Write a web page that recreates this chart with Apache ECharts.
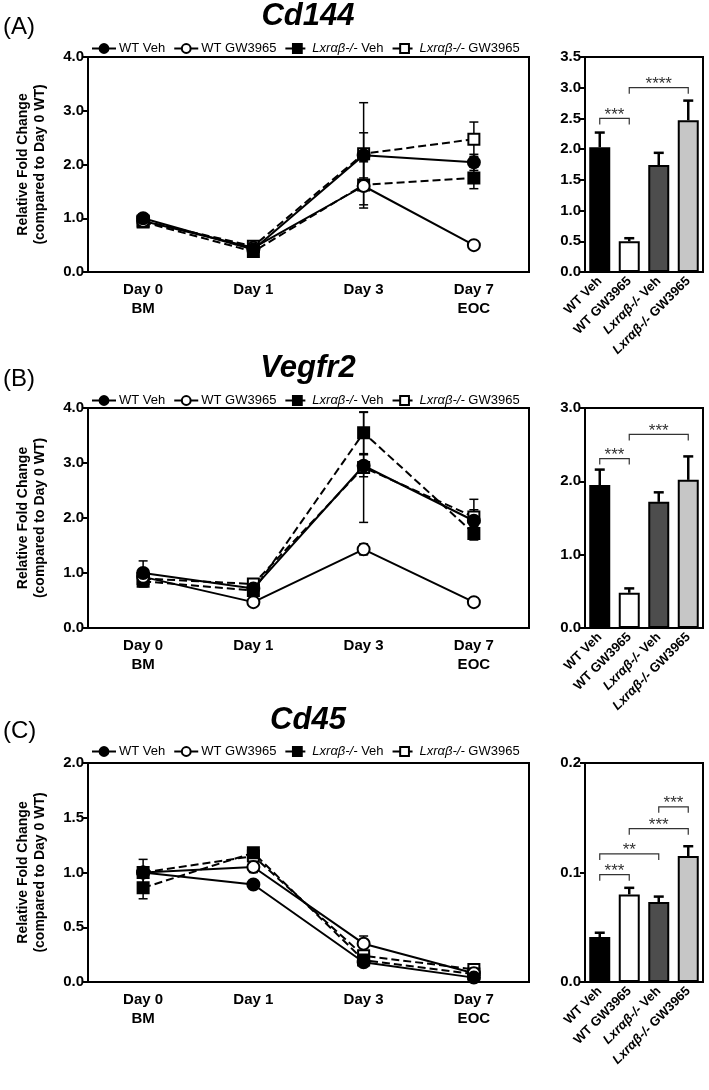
<!DOCTYPE html>
<html><head><meta charset="utf-8">
<script src="https://cdn.jsdelivr.net/npm/echarts@6/dist/echarts.min.js"></script>
<style>html,body{margin:0;padding:0;background:#fff}#c{width:709px;height:1090px}</style>
</head><body><div id="c"></div>
<script>
// ---------- data ----------
const days = ['Day 0\nBM', 'Day 1', 'Day 3', 'Day 7\nEOC'];
const groups = ['WT Veh', 'WT GW3965', 'Lxrαβ-/- Veh', 'Lxrαβ-/- GW3965'];
const panelTitles = ['Cd144', 'Vegfr2', 'Cd45'];
const panelLetters = ['(A)', '(B)', '(C)'];

// Cd144 time course (mean, error)
const cd144_wtVeh = [1.00, 0.42, 2.17, 2.04];
const cd144_wtVeh_err = [0.08, 0.04, 0.42, 0.15];
const cd144_wtGW = [0.95, 0.45, 1.60, 0.50];
const cd144_wtGW_err = [0.05, 0.04, 0.08, 0.04];
const cd144_lxrVeh = [0.93, 0.38, 1.62, 1.75];
const cd144_lxrVeh_err = [0.06, 0.04, 0.43, 0.20];
const cd144_lxrGW = [0.95, 0.48, 2.20, 2.47];
const cd144_lxrGW_err = [0.06, 0.04, 0.95, 0.32];
// Cd144 day 7 bars
const cd144_bar = [2.03, 0.50, 1.74, 2.47];
const cd144_bar_err = [0.24, 0.05, 0.20, 0.32];
const cd144_sig = [[0, 1, 2.50], [1, 3, 3.00]];
const cd144_sigText = ['***', '****'];

// Vegfr2 time course
const vegfr2_wtVeh = [1.00, 0.72, 2.95, 1.95];
const vegfr2_wtVeh_err = [0.22, 0.05, 0.20, 0.20];
const vegfr2_wtGW = [0.93, 0.47, 1.43, 0.47];
const vegfr2_wtGW_err = [0.05, 0.04, 0.10, 0.05];
const vegfr2_lxrVeh = [0.85, 0.68, 3.55, 1.72];
const vegfr2_lxrVeh_err = [0.10, 0.08, 0.38, 0.12];
const vegfr2_lxrGW = [0.90, 0.80, 2.92, 2.02];
const vegfr2_lxrGW_err = [0.15, 0.06, 1.00, 0.32];
const vegfr2_bar = [1.95, 0.48, 1.72, 2.02];
const vegfr2_bar_err = [0.21, 0.06, 0.13, 0.32];
const vegfr2_sig = [[0, 1, 2.31], [1, 3, 2.64]];
const vegfr2_sigText = ['***', '***'];

// Cd45 time course
const cd45_wtVeh = [1.00, 0.89, 0.18, 0.04];
const cd45_wtVeh_err = [0.12, 0.02, 0.02, 0.005];
const cd45_wtGW = [1.00, 1.05, 0.35, 0.08];
const cd45_wtGW_err = [0.03, 0.05, 0.07, 0.01];
const cd45_lxrVeh = [0.86, 1.18, 0.20, 0.073];
const cd45_lxrVeh_err = [0.10, 0.03, 0.03, 0.005];
const cd45_lxrGW = [1.00, 1.15, 0.24, 0.115];
const cd45_lxrGW_err = [0.04, 0.03, 0.03, 0.01];
const cd45_bar = [0.041, 0.080, 0.073, 0.115];
const cd45_bar_err = [0.004, 0.006, 0.005, 0.009];
const cd45_sig = [[0, 1, 0.098], [0, 2, 0.117], [1, 3, 0.140], [2, 3, 0.160]];
const cd45_sigText = ['***', '**', '***', '***'];

// axis settings (tick labels)
const lineAxisMax = [4, 4, 2];
const lineAxisStep = [1, 1, 0.5];
const barAxisMax = [3.5, 3, 0.2];
const barAxisStep = [0.5, 1, 0.1];

// ---------- assembly ----------
const panels = [
  {lines: [cd144_wtVeh, cd144_wtGW, cd144_lxrVeh, cd144_lxrGW],
   errs: [cd144_wtVeh_err, cd144_wtGW_err, cd144_lxrVeh_err, cd144_lxrGW_err],
   bar: cd144_bar, barErr: cd144_bar_err, sig: cd144_sig, sigText: cd144_sigText},
  {lines: [vegfr2_wtVeh, vegfr2_wtGW, vegfr2_lxrVeh, vegfr2_lxrGW],
   errs: [vegfr2_wtVeh_err, vegfr2_wtGW_err, vegfr2_lxrVeh_err, vegfr2_lxrGW_err],
   bar: vegfr2_bar, barErr: vegfr2_bar_err, sig: vegfr2_sig, sigText: vegfr2_sigText},
  {lines: [cd45_wtVeh, cd45_wtGW, cd45_lxrVeh, cd45_lxrGW],
   errs: [cd45_wtVeh_err, cd45_wtGW_err, cd45_lxrVeh_err, cd45_lxrGW_err],
   bar: cd45_bar, barErr: cd45_bar_err, sig: cd45_sig, sigText: cd45_sigText}
];

const FONT = '"Liberation Sans", Arial, sans-serif';
const symbols = ['circle', 'circle', 'rect', 'rect'];
const fills = ['#000', '#fff', '#000', '#fff'];
const dashes = ['solid', 'solid', 'dashed', 'dashed'];
const zOrder = [8, 7, 6, 5];
const barColors = ['#000000', '#ffffff', '#4d4d4d', '#c6c6c6'];

const gridTop = [57, 408, 763];
const gridH = [215, 220, 219];
const titleY = [16, 368, 720];
const letterY = [27, 379, 731];
const legendTop = [37, 389, 740];

function fmtGroup(name) {
  if (name.indexOf('Lxr') === 0) return '{i|Lxrαβ-/-}' + name.slice(8);
  return name;
}

function errRender(capW, upOnly, lw) {
  return function (params, api) {
    const x = api.value(0), v = api.value(1), e = api.value(2);
    const top = api.coord([x, v + e]);
    const bot = api.coord([x, upOnly ? v : v - e]);
    const style = {stroke: '#000', lineWidth: lw};
    const ch = [
      {type: 'line', shape: {x1: top[0], y1: top[1], x2: bot[0], y2: bot[1]}, style},
      {type: 'line', shape: {x1: top[0] - capW / 2, y1: top[1], x2: top[0] + capW / 2, y2: top[1]}, style}
    ];
    if (!upOnly) ch.push({type: 'line', shape: {x1: bot[0] - capW / 2, y1: bot[1], x2: bot[0] + capW / 2, y2: bot[1]}, style});
    return {type: 'group', children: ch};
  };
}

function sigRender(texts) {
  return function (params, api) {
    const a = api.coord([api.value(0), api.value(2)]);
    const b = api.coord([api.value(1), api.value(2)]);
    const leg = 6;
    const style = {stroke: '#333', lineWidth: 1.2};
    return {type: 'group', children: [
      {type: 'polyline', shape: {points: [[a[0], a[1] + leg], [a[0], a[1]], [b[0], b[1]], [b[0], b[1] + leg]]}, style: Object.assign({fill: null}, style)},
      {type: 'text', x: (a[0] + b[0]) / 2, y: a[1] + 5, style: {text: texts[params.dataIndex], font: '17px ' + FONT, fill: '#333', align: 'center', verticalAlign: 'bottom'}}
    ]};
  };
}

const grids = [], xAxes = [], yAxes = [], series = [], legends = [], graphics = [];
const axisLineStyle = {color: '#000', width: 2};

panels.forEach((p, k) => {
  grids.push({left: 88, width: 441, top: gridTop[k], height: gridH[k], show: true, borderColor: '#000', borderWidth: 2, containLabel: false});
  grids.push({left: 585, width: 118, top: gridTop[k], height: gridH[k], show: true, borderColor: '#000', borderWidth: 2, containLabel: false});

  xAxes.push({type: 'category', gridIndex: 2 * k, data: days, boundaryGap: true,
    axisLine: {lineStyle: axisLineStyle}, axisTick: {alignWithLabel: true, length: 5, lineStyle: axisLineStyle},
    axisLabel: {color: '#000', fontFamily: FONT, fontWeight: 'bold', fontSize: 15, lineHeight: 19, margin: 8}});
  xAxes.push({type: 'category', gridIndex: 2 * k + 1, data: groups, boundaryGap: true,
    axisLine: {lineStyle: axisLineStyle}, axisTick: {alignWithLabel: true, length: 5, lineStyle: axisLineStyle},
    axisLabel: {color: '#000', fontFamily: FONT, fontWeight: 'bold', fontSize: 13, rotate: 45, interval: 0, margin: 7,
      formatter: fmtGroup, rich: {i: {fontStyle: 'italic', fontWeight: 'bold', fontSize: 13, fontFamily: FONT, color: '#000'}}}});

  yAxes.push({type: 'value', gridIndex: 2 * k, min: 0, max: lineAxisMax[k], interval: lineAxisStep[k],
    name: 'Relative Fold Change\n(compared to Day 0 WT)', nameLocation: 'middle', nameGap: 39,
    nameTextStyle: {color: '#000', fontFamily: FONT, fontWeight: 'bold', fontSize: 14, lineHeight: 17},
    axisLine: {show: true, lineStyle: axisLineStyle}, axisTick: {show: true, length: 5, lineStyle: axisLineStyle},
    splitLine: {show: false},
    axisLabel: {color: '#000', fontFamily: FONT, fontWeight: 'bold', fontSize: 15, margin: 4, formatter: v => v.toFixed(1)}});
  yAxes.push({type: 'value', gridIndex: 2 * k + 1, min: 0, max: barAxisMax[k], interval: barAxisStep[k],
    axisLine: {show: true, lineStyle: axisLineStyle}, axisTick: {show: true, length: 5, lineStyle: axisLineStyle},
    splitLine: {show: false},
    axisLabel: {color: '#000', fontFamily: FONT, fontWeight: 'bold', fontSize: 15, margin: 4, formatter: v => v.toFixed(1)}});

  // error bars behind the lines
  const errData = [];
  p.lines.forEach((vals, s) => vals.forEach((v, i) => errData.push([i, v, p.errs[s][i]])));
  series.push({type: 'custom', name: 'err' + k, xAxisIndex: 2 * k, yAxisIndex: 2 * k, z: 1,
    renderItem: errRender(9, false, 1.5), data: errData, silent: true});

  p.lines.forEach((vals, s) => {
    series.push({type: 'line', name: groups[s], xAxisIndex: 2 * k, yAxisIndex: 2 * k, data: vals,
      symbol: symbols[s], symbolSize: s >= 2 ? 11 : 12, z: zOrder[s],
      itemStyle: {color: fills[s], borderColor: '#000', borderWidth: 2},
      lineStyle: {color: '#000', width: 2, type: dashes[s]}, animation: false});
  });

  series.push({type: 'bar', name: 'bar' + k, xAxisIndex: 2 * k + 1, yAxisIndex: 2 * k + 1, barWidth: 21, z: 2,
    data: p.bar.map((v, i) => ({value: v, itemStyle: {color: barColors[i], borderColor: '#000', borderWidth: 2}})),
    animation: false});
  series.push({type: 'custom', name: 'barErr' + k, xAxisIndex: 2 * k + 1, yAxisIndex: 2 * k + 1, z: 1,
    renderItem: errRender(10, true, 2.5), data: p.bar.map((v, i) => [i, v, p.barErr[i]]), silent: true});
  series.push({type: 'custom', name: 'sig' + k, xAxisIndex: 2 * k + 1, yAxisIndex: 2 * k + 1, z: 5,
    renderItem: sigRender(p.sigText), data: p.sig, silent: true});

  legends.push({top: legendTop[k], left: 86, itemGap: 8, itemWidth: 24, itemHeight: 11,
    data: groups, selectedMode: false, formatter: fmtGroup,
    textStyle: {color: '#000', fontFamily: FONT, fontSize: 13, padding: [0, 0, 0, -2],
      rich: {i: {fontStyle: 'italic', fontSize: 13, fontFamily: FONT, color: '#000'}}}});

  graphics.push({type: 'text', x: 308, y: titleY[k], style: {text: panelTitles[k], font: 'italic bold 31px ' + FONT, fill: '#000', align: 'center', verticalAlign: 'middle'}});
  graphics.push({type: 'text', x: 3, y: letterY[k], style: {text: panelLetters[k], font: '24px ' + FONT, fill: '#000', align: 'left', verticalAlign: 'middle'}});
});

const chart = echarts.init(document.getElementById('c'), null, {renderer: 'canvas'});
chart.setOption({
  backgroundColor: '#fff',
  animation: false,
  grid: grids, xAxis: xAxes, yAxis: yAxes, series: series, legend: legends, graphic: graphics
});
</script>
</body></html>
